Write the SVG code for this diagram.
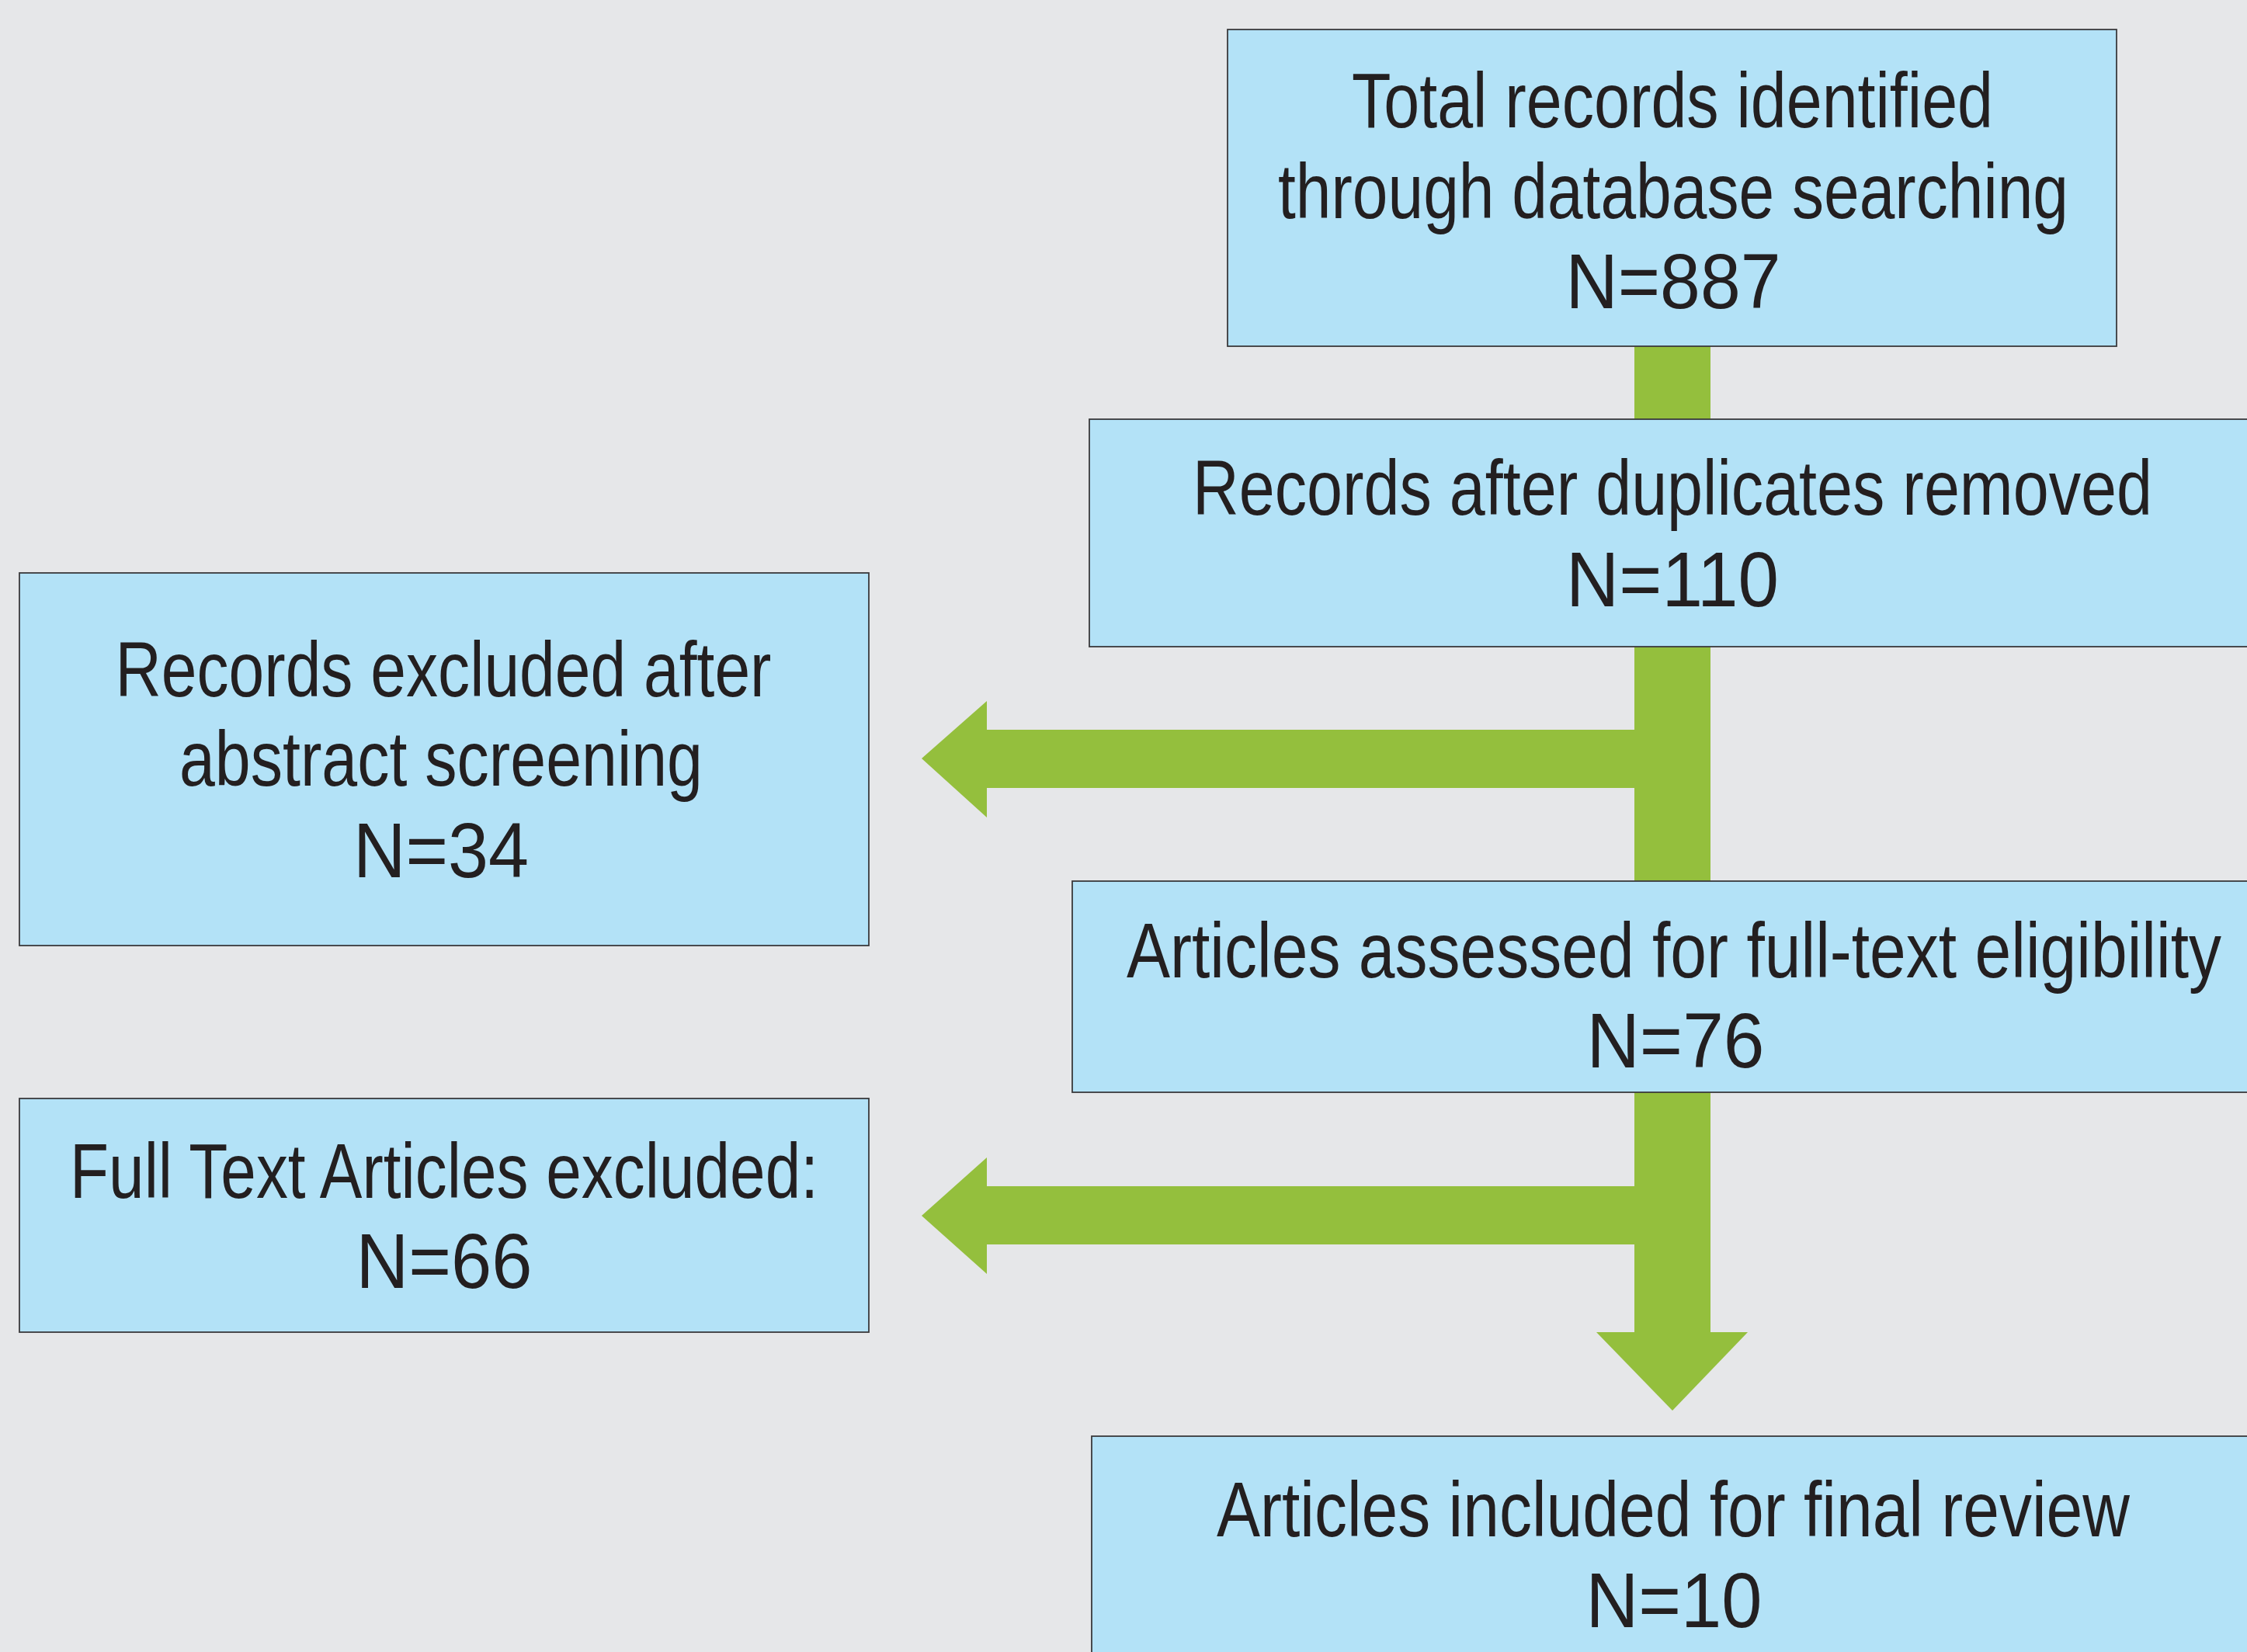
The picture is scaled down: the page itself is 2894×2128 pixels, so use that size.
<svg xmlns="http://www.w3.org/2000/svg" width="2894" height="2128" viewBox="0 0 2894 2128">
<style>
.box{fill:#b3e2f7;stroke:#3a3a3c;stroke-width:1.8}
.t{font-family:"Liberation Sans",Arial,sans-serif;font-size:100px;fill:#231f20;text-anchor:middle}
.g{fill:#94bf3d}
</style>
<rect x="0" y="0" width="2894" height="2128" fill="#e6e7e9"/>
<g id="connectors">
<rect class="g" x="2105" y="440" width="98" height="1277"/>
<polygon class="g" points="2056,1716 2251,1716 2154,1817"/>
<polygon class="g" points="2106,940 1271,940 1271,903 1187,977 1271,1053 1271,1015 2106,1015"/>
<polygon class="g" points="2106,1528 1271,1528 1271,1491 1187,1566 1271,1641 1271,1603 2106,1603"/>
</g>
<g id="n1">
<rect class="box" x="1581" y="38" width="1145" height="408"/>
<g transform="scale(0.75,1)">
<text class="t" x="2872" y="164" textLength="1101.3" lengthAdjust="spacingAndGlyphs">Total records identified</text>
<text class="t" x="2873.3" y="281" textLength="1357.3" lengthAdjust="spacingAndGlyphs">through database searching</text>
<text class="t" x="2873.3" y="397" textLength="369.3" lengthAdjust="spacingAndGlyphs">N=887</text>
</g>
</g>
<g id="n2">
<rect class="box" x="1403" y="540" width="1520" height="293"/>
<g transform="scale(0.75,1)">
<text class="t" x="2872" y="663" textLength="1648" lengthAdjust="spacingAndGlyphs">Records after duplicates removed</text>
<text class="t" x="2872" y="781" textLength="365.3" lengthAdjust="spacingAndGlyphs">N=110</text>
</g>
</g>
<g id="n3">
<rect class="box" x="25" y="738" width="1094" height="480"/>
<g transform="scale(0.75,1)">
<text class="t" x="761.3" y="897" textLength="1126.7" lengthAdjust="spacingAndGlyphs">Records excluded after</text>
<text class="t" x="757.3" y="1012" textLength="898.7" lengthAdjust="spacingAndGlyphs">abstract screening</text>
<text class="t" x="757.3" y="1130" textLength="301.3" lengthAdjust="spacingAndGlyphs">N=34</text>
</g>
</g>
<g id="n4">
<rect class="box" x="1381" y="1135" width="1540" height="272"/>
<g transform="scale(0.75,1)">
<text class="t" x="2874.7" y="1259" textLength="1880" lengthAdjust="spacingAndGlyphs">Articles assessed for full-text eligibility</text>
<text class="t" x="2877.3" y="1375" textLength="305.3" lengthAdjust="spacingAndGlyphs">N=76</text>
</g>
</g>
<g id="n5">
<rect class="box" x="25" y="1415" width="1094" height="301"/>
<g transform="scale(0.75,1)">
<text class="t" x="762.7" y="1543" textLength="1285.3" lengthAdjust="spacingAndGlyphs">Full Text Articles excluded:</text>
<text class="t" x="762.7" y="1659" textLength="302.7" lengthAdjust="spacingAndGlyphs">N=66</text>
</g>
</g>
<g id="n6">
<rect class="box" x="1406" y="1850" width="1520" height="300"/>
<g transform="scale(0.75,1)">
<text class="t" x="2873.3" y="1979" textLength="1568" lengthAdjust="spacingAndGlyphs">Articles included for final review</text>
<text class="t" x="2874.7" y="2096" textLength="302.7" lengthAdjust="spacingAndGlyphs">N=10</text>
</g>
</g>
</svg>
